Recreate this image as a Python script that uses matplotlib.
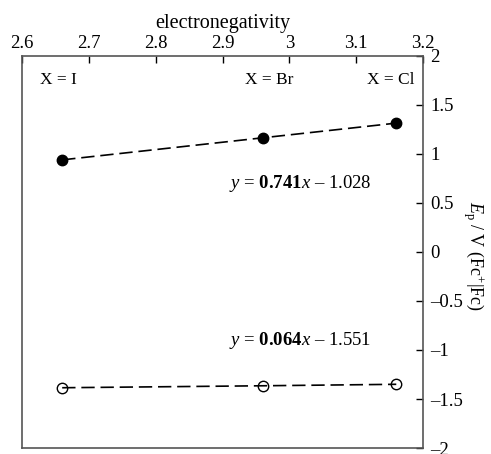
import matplotlib
matplotlib.use("Agg")
import matplotlib.pyplot as plt

plt.rcParams["font.family"] = ["Liberation Serif", "DejaVu Serif"]
plt.rcParams["mathtext.fontset"] = "custom"
plt.rcParams["mathtext.rm"] = "Liberation Serif"
plt.rcParams["mathtext.it"] = "Liberation Serif:italic"
plt.rcParams["mathtext.bf"] = "Liberation Serif:bold"

electroneg = [2.66, 2.96, 3.16]
ep_filled = [0.94, 1.165, 1.315]
ep_open = [-1.385, -1.365, -1.35]
halide_labels = ["X = I", "X = Br", "X = Cl"]
label_x = [2.654, 2.97, 3.152]

fig = plt.figure(figsize=(4.91, 4.54), dpi=100)
ax = fig.add_axes([0.045, 0.0132, 0.8165, 0.8635])

dash = (0, (8, 3.5))
ax.plot(electroneg, ep_filled, color="black", linestyle=dash, linewidth=1.2,
        marker="o", markersize=7.5, markerfacecolor="black", markeredgecolor="black")
ax.plot(electroneg, ep_open, color="black", linestyle=dash, linewidth=1.2,
        marker="o", markersize=7.5, markerfacecolor="none", markeredgecolor="black",
        markeredgewidth=1.0)

for xv, lab in zip(label_x, halide_labels):
    ax.text(xv, 1.75, lab, ha="center", va="center", fontsize=12.5)

ax.text(2.91, 0.70, r"$y$ = $\mathbf{0.741}$$x$ – 1.028", ha="left", va="center", fontsize=13.5)
ax.text(2.91, -0.90, r"$y$ = $\mathbf{0.064}$$x$ – 1.551", ha="left", va="center", fontsize=13.5)

ax.set_xlim(2.6, 3.2)
ax.set_ylim(-2, 2)
ax.set_xticks([2.6, 2.7, 2.8, 2.9, 3.0, 3.1, 3.2])
ax.set_xticklabels(["2.6", "2.7", "2.8", "2.9", "3", "3.1", "3.2"])
ax.set_yticks([-2, -1.5, -1, -0.5, 0, 0.5, 1, 1.5, 2])
ax.set_yticklabels(["–2", "–1.5", "–1", "–0.5", "0", "0.5", "1", "1.5", "2"])
ax.xaxis.tick_top()
ax.xaxis.set_label_position("top")
ax.yaxis.tick_right()
ax.yaxis.set_label_position("right")
ax.tick_params(direction="in", length=5, width=1, labelsize=13.5, colors="black")
ax.tick_params(axis="x", pad=3)
ax.tick_params(axis="y", pad=5)
ax.set_xlabel("electronegativity", fontsize=14.5, labelpad=5)
ax.set_ylabel(r"$E_\mathrm{p}$ / V (Fc$^{+}$|Fc)", fontsize=13, rotation=270)
ax.yaxis.set_label_coords(1.125, 0.49)
ax.yaxis.label.set_va("center")
ax.yaxis.label.set_ha("center")
for s in ax.spines.values():
    s.set_color("#555555")
    s.set_linewidth(1.2)

fig.savefig("out.png", dpi=100)
